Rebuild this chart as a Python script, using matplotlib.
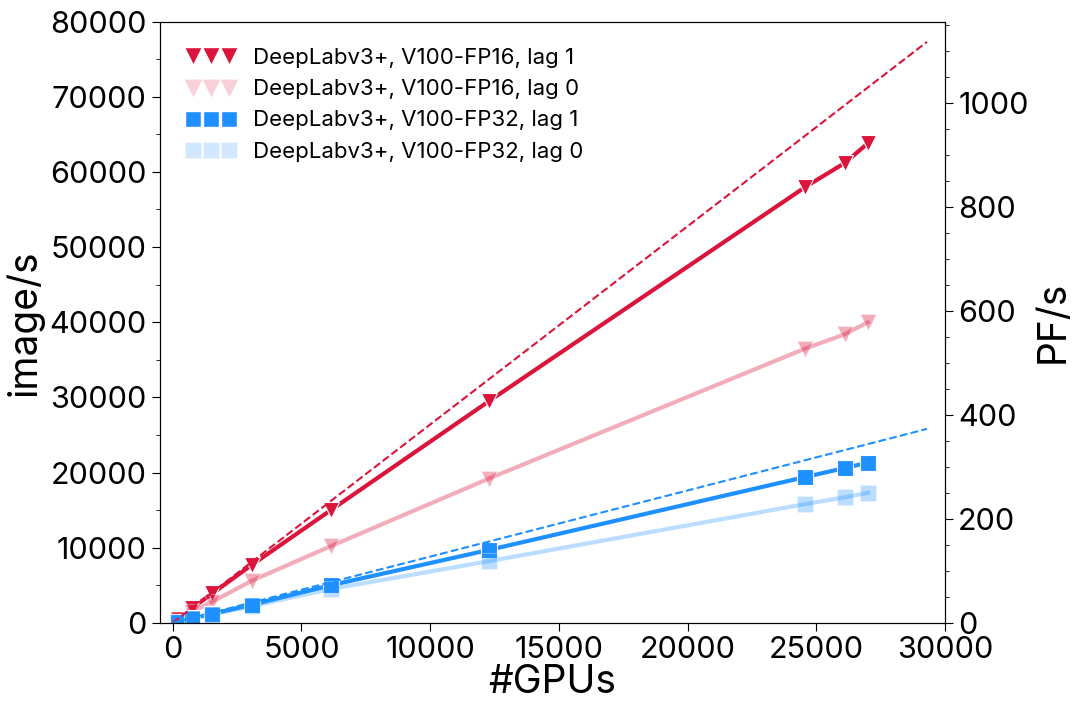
import matplotlib.pyplot as plt
from matplotlib.lines import Line2D
from matplotlib.ticker import AutoMinorLocator

plt.rcParams['font.family'] = ['Inter', 'DejaVu Sans']

gpus = [192, 768, 1536, 3072, 6144, 12288, 24576, 26112, 27000]
fp16_lag1 = [500, 2000, 3900, 7700, 15000, 29500, 58000, 61200, 63800]
fp16_lag0 = [400, 1500, 2800, 5600, 10200, 19200, 36500, 38400, 40000]
fp32_lag1 = [150, 600, 1200, 2400, 5000, 9700, 19400, 20600, 21300]
fp32_lag0 = [140, 550, 1100, 2200, 4500, 8200, 15800, 16700, 17300]
ideal_x = [0, 29300]
ideal_fp16 = [0, 77300]
ideal_fp32 = [0, 25800]
labels = ['DeepLabv3+, V100-FP16, lag 1', 'DeepLabv3+, V100-FP16, lag 0',
          'DeepLabv3+, V100-FP32, lag 1', 'DeepLabv3+, V100-FP32, lag 0']

red = '#dc143c'
blue = '#1e90ff'

fig, ax = plt.subplots(figsize=(10.8, 7.2), dpi=100)
kw = dict(lw=3, ms=12, mec='white', mew=0.8)
ax.plot(gpus, fp16_lag1, marker='v', color=red, **kw)
ax.plot(gpus, fp16_lag0, marker='v', color=red, alpha=0.35, **kw)
ax.plot(gpus, fp32_lag1, marker='s', color=blue, **kw)
ax.plot(gpus, fp32_lag0, marker='s', color=blue, alpha=0.3, **kw)
ax.plot(ideal_x, ideal_fp16, '--', color=red, lw=1.5)
ax.plot(ideal_x, ideal_fp32, '--', color=blue, lw=1.5)

handles = [Line2D([], [], ls='none', marker='v', color=red, ms=13, mec='white'),
           Line2D([], [], ls='none', marker='v', color=red, alpha=0.2, ms=13, mec='white'),
           Line2D([], [], ls='none', marker='s', color=blue, ms=12, mec='white'),
           Line2D([], [], ls='none', marker='s', color=blue, alpha=0.2, ms=12, mec='white')]
ax.legend(handles, labels, loc='upper left', fontsize=16, frameon=False, numpoints=3,
          handlelength=2.2, borderaxespad=0.8)

ax.set_xlim(-500, 30000)
ax.set_ylim(0, 80000)
ax.set_xlabel('#GPUs', fontsize=28, labelpad=0)
ax.set_ylabel('image/s', fontsize=28)
ax.tick_params(labelsize=22, direction='out', length=6)
ax.yaxis.set_minor_locator(AutoMinorLocator(2))
ax.tick_params(which='minor', length=3)

ax2 = ax.twinx()
ax2.set_ylim(0, 80000 / 69.2)
ax2.set_ylabel('PF/s', fontsize=28)
ax2.tick_params(labelsize=22, length=6)
ax2.yaxis.set_minor_locator(AutoMinorLocator(4))
ax2.tick_params(which='minor', length=3)

fig.subplots_adjust(left=0.148, right=0.875, top=0.97, bottom=0.135)
fig.savefig('out.png')
